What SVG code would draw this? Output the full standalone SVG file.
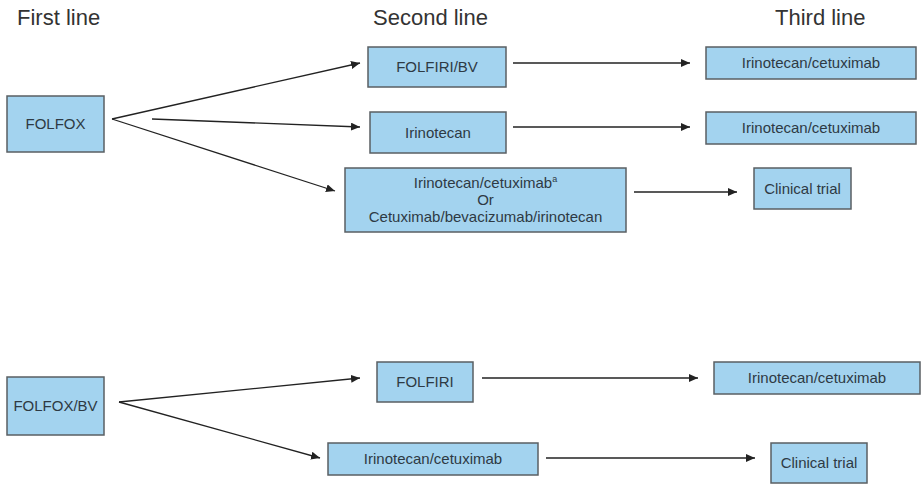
<svg xmlns="http://www.w3.org/2000/svg" width="922" height="484" viewBox="0 0 922 484">
  <style>
    .box { fill: #a3d3ef; stroke: #5a5f63; stroke-width: 1.5; }
    .lbl { font-family: "Liberation Sans", Arial, sans-serif; font-size: 15px; fill: #2e3a44; text-anchor: middle; }
    .hdr { font-family: "Liberation Sans", Arial, sans-serif; font-size: 22px; fill: #333333; }
    .con { stroke: #222222; stroke-width: 1.3; fill: none; marker-end: url(#arr); }
  </style>
  <defs>
    <marker id="arr" markerUnits="userSpaceOnUse" markerWidth="10" markerHeight="8" refX="9" refY="4" orient="auto">
      <path d="M0,0 L9,4 L0,8 Z" fill="#222222"/>
    </marker>
  </defs>
  <rect width="922" height="484" fill="#ffffff"/>

  <!-- column headings -->
  <text class="hdr" x="17" y="25">First line</text>
  <text class="hdr" x="373" y="25">Second line</text>
  <text class="hdr" x="775" y="25">Third line</text>

  <!-- upper pathway -->
  <g id="folfox">
    <rect class="box" x="7" y="96" width="97" height="56"/>
    <text class="lbl" x="55.5" y="129">FOLFOX</text>
  </g>
  <g id="folfiri-bv">
    <rect class="box" x="368" y="47" width="138" height="40"/>
    <text class="lbl" x="437" y="72">FOLFIRI/BV</text>
  </g>
  <g id="irinotecan">
    <rect class="box" x="370" y="112" width="136" height="41"/>
    <text class="lbl" x="438" y="138">Irinotecan</text>
  </g>
  <g id="iri-cetux-or">
    <rect class="box" x="345" y="168" width="281" height="64"/>
    <text class="lbl" x="485.5" y="188">Irinotecan/cetuximab<tspan font-size="9" dy="-6">a</tspan></text>
    <text class="lbl" x="485.5" y="205">Or</text>
    <text class="lbl" x="485.5" y="222">Cetuximab/bevacizumab/irinotecan</text>
  </g>
  <g id="third-1">
    <rect class="box" x="706" y="47" width="210" height="32"/>
    <text class="lbl" x="811" y="68">Irinotecan/cetuximab</text>
  </g>
  <g id="third-2">
    <rect class="box" x="706" y="112" width="210" height="32"/>
    <text class="lbl" x="811" y="133">Irinotecan/cetuximab</text>
  </g>
  <g id="trial-1">
    <rect class="box" x="754" y="168" width="97" height="41"/>
    <text class="lbl" x="802.5" y="194">Clinical trial</text>
  </g>

  <!-- lower pathway -->
  <g id="folfox-bv">
    <rect class="box" x="7" y="377" width="97" height="58"/>
    <text class="lbl" x="55.5" y="411">FOLFOX/BV</text>
  </g>
  <g id="folfiri">
    <rect class="box" x="377" y="362" width="96" height="40"/>
    <text class="lbl" x="425" y="387">FOLFIRI</text>
  </g>
  <g id="iri-cetux-2">
    <rect class="box" x="328" y="443" width="210" height="32"/>
    <text class="lbl" x="433" y="464">Irinotecan/cetuximab</text>
  </g>
  <g id="third-3">
    <rect class="box" x="714" y="362" width="206" height="32"/>
    <text class="lbl" x="817" y="383">Irinotecan/cetuximab</text>
  </g>
  <g id="trial-2">
    <rect class="box" x="771" y="443" width="96" height="40"/>
    <text class="lbl" x="819" y="468">Clinical trial</text>
  </g>

  <!-- connectors -->
  <g id="connectors">
    <line class="con" x1="112" y1="119" x2="360" y2="63"/>
    <line class="con" x1="152" y1="119" x2="360" y2="127"/>
    <line class="con" x1="112" y1="119" x2="335" y2="191"/>
    <line class="con" x1="513" y1="63" x2="690" y2="63"/>
    <line class="con" x1="513" y1="127" x2="690" y2="127"/>
    <line class="con" x1="634" y1="192" x2="737" y2="192"/>

    <line class="con" x1="119" y1="402" x2="360" y2="378"/>
    <line class="con" x1="119" y1="402" x2="320" y2="458"/>
    <line class="con" x1="482" y1="378" x2="698" y2="378"/>
    <line class="con" x1="546" y1="458" x2="755" y2="458"/>
  </g>
</svg>
